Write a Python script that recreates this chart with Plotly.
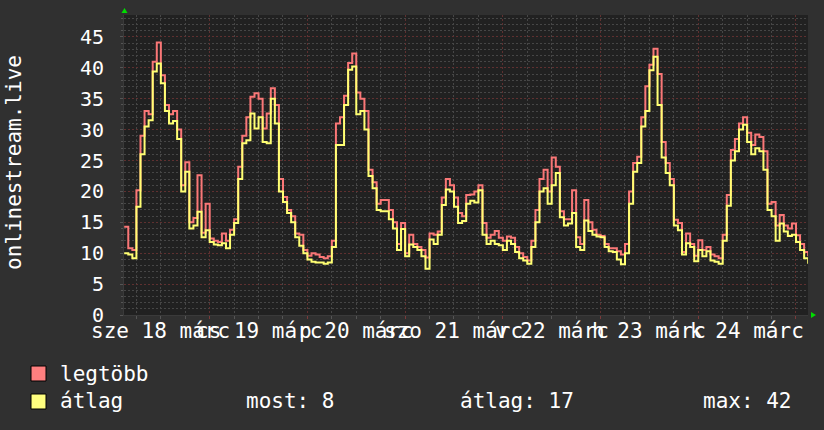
import plotly.graph_objects as go
import pandas as pd

# ---- data (hourly, starting 2020-03-18 03:00) ----
start_time = "2020-03-18 03:00"
legtobb = [14.3, 10.8, 10.5, 20.2, 29, 33, 32.5, 41, 44.1, 38.8, 34, 32.5, 33, 30, 21, 24.7, 15, 15.7, 22.6, 13.3, 18, 12.4,
           12.0, 11.8, 13.2, 12.0, 13.8, 15.5, 24, 29, 32, 35.3, 35.9, 35, 30.2, 32.6, 36.7, 34, 22, 19.1, 17, 16, 13.2, 13,
           10.5, 9.6, 10, 9.8, 9.4, 9.2, 9.5, 12, 31, 32, 35.5, 40.8, 42.3, 36, 35, 33, 23.5, 21.5, 18, 18.6, 18.6, 17, 15,
           11.5, 14.9, 10, 13, 11.5, 11, 10.5, 9.3, 13.2, 13, 13.5, 19, 22, 21, 19, 16.5, 16, 19.4, 19.5, 20, 21, 14.9, 12.5,
           13, 13.6, 12.5, 12, 12.7, 12.5, 11, 10, 9.4, 8.8, 12, 17, 22, 23.5, 20, 25.5, 24, 16.8, 15.5, 15.5, 20.2, 12.6,
           11.5, 18.6, 15, 13.8, 13, 12.8, 11.5, 10.8, 10.8, 10.3, 9.8, 11.5, 20, 24.6, 25.6, 32, 37, 40.5, 43.1, 39, 28,
           24.6, 22, 15.4, 14.9, 10.2, 13.2, 11.5, 9.6, 12.1, 10.5, 11, 9.8, 9.5, 9.2, 13, 19.4, 26.7, 28.5, 31, 32, 29.5,
           27.5, 29.2, 28.8, 26.5, 18, 18.3, 14.5, 16.2, 14.5, 14, 14.8, 12.9, 11.5, 10.2, 9.5]
atlag = [10.0, 9.8, 9.2, 17.5, 26, 30.5, 31.5, 39.4, 40.7, 37.5, 33, 31, 31.4, 28.5, 20, 23.2, 14, 14.5, 16.7, 12.6, 13.7,
         11.8, 11.4, 11.3, 11.6, 10.8, 13.0, 14.9, 22, 27.8, 28.3, 32.6, 30.2, 32, 28, 27.8, 35, 31, 20, 18.3, 16.5, 15,
         12.6, 11.2, 10, 9, 8.6, 8.5, 8.5, 8.3, 8.5, 11, 27.5, 27.5, 34, 39.7, 40.2, 32.5, 33, 30, 22.5, 20.5, 17, 16.8,
         16.8, 15.5, 14, 10.5, 13.9, 9.5, 11.4, 11, 10.5, 9.5, 7.5, 12.2, 11.5, 13, 17.8, 20.3, 20, 17.5, 14.9, 15.2, 18,
         18.5, 18.2, 20.2, 13, 11.5, 12, 11.5, 11.3, 10.5, 12, 11.5, 10.2, 9.2, 8.8, 8.3, 11, 15, 20, 20.5, 18, 21, 23,
         15.8, 14.5, 14.8, 16.5, 11, 10.5, 15.3, 13.6, 13, 12.7, 12.6, 11, 10.3, 10.2, 9, 8.2, 10, 18, 23.2, 24.6, 30.5,
         33, 39.6, 41.8, 34, 25.5, 23, 21, 14.5, 13.7, 9.8, 11.6, 11, 8.7, 10.5, 9.5, 10.3, 8.8, 8.6, 8.3, 12, 17.7, 25,
         26.5, 30, 30.8, 28, 26, 27, 26.5, 23.5, 17, 16, 12, 14.8, 13.5, 12.8, 13, 11.8, 10.5, 9.2, 8.3]
day_labels = ["sze 18 márc", "cs 19 márc", "p 20 márc", "szo 21 márc", "v 22 márc", "h 23 márc", "k 24 márc"]
label_times = ["2020-03-18 12:00", "2020-03-19 12:00", "2020-03-20 12:00", "2020-03-21 12:00",
               "2020-03-22 12:00", "2020-03-23 12:00", "2020-03-24 12:00"]
y_title = "onlinestream.live"
series_names = ["legtöbb", "átlag"]
stat_texts = ["most: 8", "átlag: 17", "max: 42"]

times = pd.date_range(start_time, periods=len(atlag), freq="h")

RED = "#fa7777"
YEL = "#ffff73"
FONT = "DejaVu Sans Mono"
L, R, T, B = 124, 808, 15, 315
W, H = 824, 430


def px(x):
    return (x - L) / (R - L)


def py(y):
    return (B - y) / (B - T)


fig = go.Figure()
fig.add_trace(go.Scatter(x=times, y=legtobb, mode="lines", line=dict(color=RED, width=2, shape="hv"),
                         name=series_names[0], hoverinfo="skip"))
fig.add_trace(go.Scatter(x=times, y=atlag, mode="lines", line=dict(color=YEL, width=2, shape="hv"),
                         name=series_names[1], hoverinfo="skip"))

grid_minor = "#464646"
grid_major = "#5f3030"

fig.update_layout(
    width=W, height=H,
    margin=dict(l=L, r=W - R, t=T, b=H - B),
    paper_bgcolor="#303030",
    plot_bgcolor="#212121",
    showlegend=False,
    font=dict(family=FONT, color="#ffffff", size=20),
    xaxis=dict(
        type="date",
        range=["2020-03-18 02:57", "2020-03-25 02:57"],
        tick0="2020-03-18 00:00", dtick=86400000,
        showgrid=True, gridcolor=grid_major, griddash="2px,2px", gridwidth=1,
        showticklabels=False, ticks="outside", ticklen=3, tickcolor="#7a3a3a",
        minor=dict(dtick=21600000, tick0="2020-03-18 00:00", showgrid=True, gridcolor=grid_minor,
                   griddash="2px,2px", ticks="outside", ticklen=3, tickcolor="#555555"),
        showline=True, linecolor="#3a3a3a", zeroline=False, fixedrange=True,
    ),
    yaxis=dict(
        range=[0, 48.55], dtick=5, tick0=0,
        showgrid=True, gridcolor=grid_major, griddash="2px,2px", gridwidth=1,
        tickfont=dict(family=FONT, size=20, color="#ffffff"),
        ticks="outside", ticklen=3, tickcolor="#555555", ticklabelstandoff=12,
        minor=dict(dtick=1, showgrid=True, gridcolor=grid_minor, griddash="2px,2px",
                   ticks="outside", ticklen=2, tickcolor="#555555"),
        showline=True, linecolor="#3a3a3a", zeroline=False, fixedrange=True,
    ),
)

annotations = []
for lbl, t in zip(day_labels, label_times):
    annotations.append(dict(x=t, xref="x", y=py(331), yref="paper", text=lbl, showarrow=False,
                            xanchor="center", yanchor="middle",
                            font=dict(family=FONT, size=21, color="#ffffff")))
annotations.append(dict(x=px(14), xref="paper", y=py(163), yref="paper", text=y_title, showarrow=False,
                        textangle=-90, xanchor="center", yanchor="middle",
                        font=dict(family=FONT, size=21, color="#ffffff")))
# legend
annotations.append(dict(x=px(58), xref="paper", y=py(374), yref="paper", text=series_names[0], showarrow=False,
                        xanchor="left", yanchor="middle", font=dict(family=FONT, size=21, color="#ffffff")))
annotations.append(dict(x=px(58), xref="paper", y=py(401), yref="paper", text=series_names[1], showarrow=False,
                        xanchor="left", yanchor="middle", font=dict(family=FONT, size=21, color="#ffffff")))
for txt, xp in zip(stat_texts, [244, 458, 701]):
    annotations.append(dict(x=px(xp), xref="paper", y=py(401), yref="paper", text=txt, showarrow=False,
                            xanchor="left", yanchor="middle", font=dict(family=FONT, size=21, color="#ffffff")))
fig.update_layout(annotations=annotations)

shapes = [
    dict(type="rect", xref="paper", yref="paper", x0=px(31), x1=px(46), y0=py(366), y1=py(381),
         fillcolor="#ff7f7f", line=dict(color="#000000", width=1)),
    dict(type="rect", xref="paper", yref="paper", x0=px(31), x1=px(46), y0=py(394), y1=py(409),
         fillcolor="#ffff7f", line=dict(color="#000000", width=1)),
    # green axis arrows
    dict(type="path", xref="paper", yref="paper",
         path=f"M {px(121.5)} {py(13)} L {px(127.5)} {py(13)} L {px(124.5)} {py(8)} Z",
         fillcolor="#00dd00", line=dict(color="#00dd00", width=0)),
    dict(type="path", xref="paper", yref="paper",
         path=f"M {px(811)} {py(312)} L {px(811)} {py(318)} L {px(816)} {py(315)} Z",
         fillcolor="#00dd00", line=dict(color="#00dd00", width=0)),
]
fig.update_layout(shapes=shapes)

fig.write_html("out.html", config={"displayModeBar": False, "staticPlot": True},
               post_script="document.body.style.margin='0';document.body.style.overflow='hidden';")
